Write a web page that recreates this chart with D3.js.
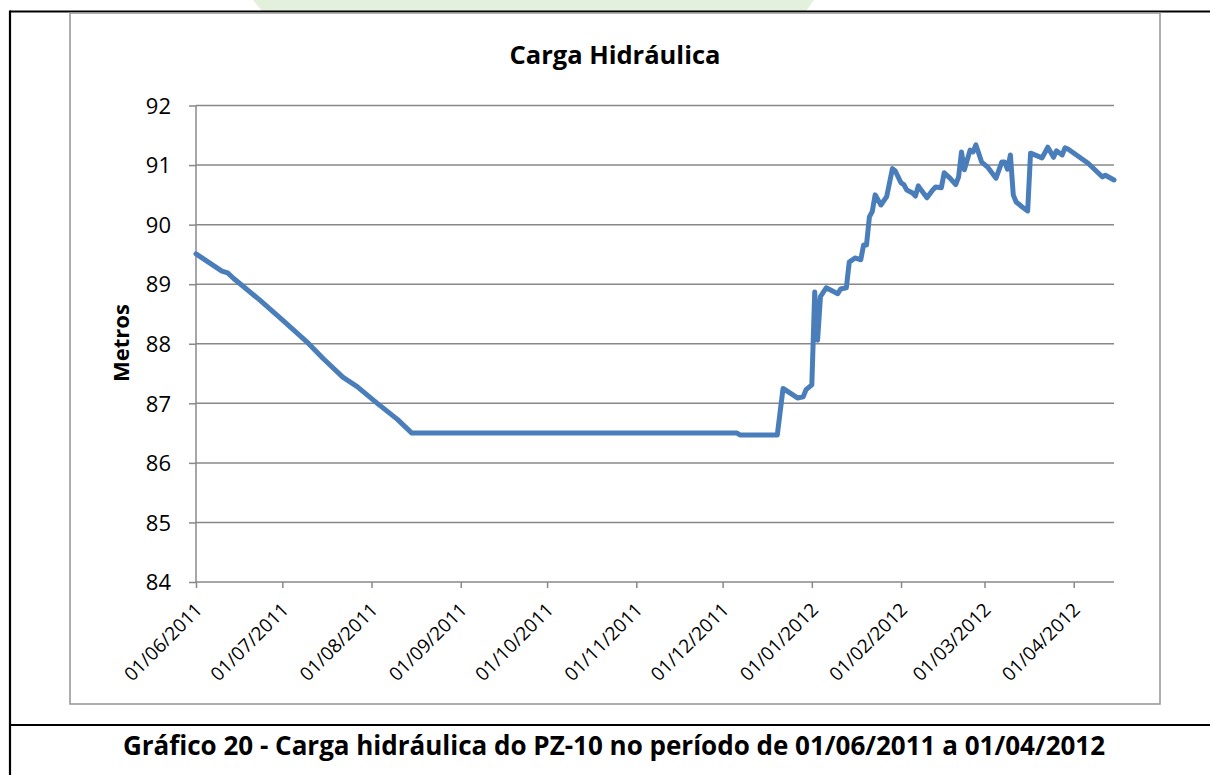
<!DOCTYPE html>
<html>
<head>
<meta charset="utf-8">
<script src="https://cdn.jsdelivr.net/npm/d3@7"></script>
<style>
  html, body { margin: 0; padding: 0; background: #fff; }
  svg { display: block; }
  text { font-family: "Open Sans", "Noto Sans", sans-serif; fill: #000; }
</style>
</head>
<body>
<svg id="chart" width="1210" height="775"></svg>
<script>
// ---- data ----
const dates = [
  "2011-06-01","2011-06-10","2011-06-12","2011-06-14","2011-06-23","2011-07-01",
  "2011-07-10","2011-07-15","2011-07-22","2011-07-27","2011-08-03","2011-08-10",
  "2011-08-15","2011-12-06","2011-12-07","2011-12-20","2011-12-22","2011-12-27",
  "2011-12-29","2011-12-30","2012-01-01","2012-01-02","2012-01-03","2012-01-04",
  "2012-01-06","2012-01-10","2012-01-11","2012-01-13","2012-01-14","2012-01-16",
  "2012-01-18","2012-01-19","2012-01-20","2012-01-21","2012-01-22","2012-01-23",
  "2012-01-25","2012-01-27","2012-01-29","2012-01-30","2012-02-01","2012-02-02",
  "2012-02-03","2012-02-05","2012-02-06","2012-02-07","2012-02-08","2012-02-10",
  "2012-02-12","2012-02-13","2012-02-15","2012-02-16","2012-02-18","2012-02-20",
  "2012-02-21","2012-02-22","2012-02-23","2012-02-25","2012-02-26","2012-02-27",
  "2012-02-29","2012-03-02","2012-03-05","2012-03-07","2012-03-08","2012-03-09",
  "2012-03-10","2012-03-11","2012-03-12","2012-03-14","2012-03-16","2012-03-17",
  "2012-03-21","2012-03-23","2012-03-25","2012-03-26","2012-03-28","2012-03-29",
  "2012-03-30","2012-04-06","2012-04-11","2012-04-12","2012-04-15"
];
const values = [
  89.51, 89.22, 89.19, 89.10, 88.74, 88.40,
  88.01, 87.76, 87.44, 87.28, 87.00, 86.73,
  86.50, 86.50, 86.47, 86.47, 87.25, 87.09,
  87.11, 87.23, 87.31, 88.87, 88.06, 88.79,
  88.94, 88.84, 88.92, 88.94, 89.37, 89.44,
  89.41, 89.66, 89.66, 90.13, 90.22, 90.50,
  90.33, 90.47, 90.94, 90.90, 90.70, 90.67,
  90.58, 90.53, 90.48, 90.65, 90.58, 90.45,
  90.58, 90.63, 90.62, 90.87, 90.78, 90.67,
  90.80, 91.22, 90.92, 91.25, 91.22, 91.34,
  91.05, 90.97, 90.78, 91.05, 91.05, 90.93,
  91.17, 90.50, 90.38, 90.30, 90.23, 91.20,
  91.12, 91.30, 91.13, 91.24, 91.17, 91.29,
  91.27, 91.03, 90.80, 90.83, 90.75
];
const yTicks = [84, 85, 86, 87, 88, 89, 90, 91, 92];
const xTickDates = [
  "2011-06-01","2011-07-01","2011-08-01","2011-09-01","2011-10-01","2011-11-01",
  "2011-12-01","2012-01-01","2012-02-01","2012-03-01","2012-04-01"
];
const xDomain = ["2011-06-01", "2012-04-15"];
const titleText = "Carga Hidráulica";
const yAxisTitle = "Metros";
const captionText = "Gráfico 20 - Carga hidráulica do PZ-10 no período de 01/06/2011 a 01/04/2012";

// ---- drawing ----
const parse = d3.timeParse("%Y-%m-%d");
const fmt = d3.timeFormat("%d/%m/%Y");
const svg = d3.select("#chart");

// faint watermark shape at top
svg.append("path")
  .attr("d", "M253,0 L814,0 L806,11 L262,11 Z")
  .attr("fill", "#e2f0dc");

// outer document frame
svg.append("line").attr("x1", 10).attr("x2", 1210).attr("y1", 11.5).attr("y2", 11.5)
  .attr("stroke", "#000").attr("stroke-width", 2.2);
svg.append("line").attr("x1", 10).attr("x2", 10).attr("y1", 10.5).attr("y2", 775)
  .attr("stroke", "#000").attr("stroke-width", 2.2);
svg.append("line").attr("x1", 10).attr("x2", 1210).attr("y1", 725).attr("y2", 725)
  .attr("stroke", "#000").attr("stroke-width", 2.2);

// chart area box
svg.append("rect").attr("x", 70).attr("y", 13).attr("width", 1090).attr("height", 691)
  .attr("fill", "#fff").attr("stroke", "#9a9a9a").attr("stroke-width", 1.6);

const x = d3.scaleTime().domain(xDomain.map(parse)).range([196, 1114]);
const y = d3.scaleLinear().domain([84, 92]).range([582, 105.5]);

// gridlines
svg.append("g").selectAll("line").data(yTicks.filter(t => t !== 84)).join("line")
  .attr("x1", 196).attr("x2", 1114)
  .attr("y1", d => y(d)).attr("y2", d => y(d))
  .attr("stroke", "#888").attr("stroke-width", 1.5);

// y axis
const yAxis = svg.append("g").attr("transform", "translate(196,0)")
  .call(d3.axisLeft(y).tickValues(yTicks).tickSize(7).tickPadding(18).tickFormat(d3.format("d")));
yAxis.select(".domain").attr("stroke", "#888").attr("stroke-width", 1.5).attr("d", `M0,${y(92)}V${y(84)}`);
yAxis.selectAll(".tick line").attr("stroke", "#888").attr("stroke-width", 1.5);
yAxis.selectAll(".tick text").attr("font-size", 22).attr("font-family", "Open Sans").attr("fill", "#000").attr("dy", "0.35em");

// x axis
const xAxis = svg.append("g").attr("transform", `translate(0,${y(84)})`)
  .call(d3.axisBottom(x).tickValues(xTickDates.map(parse)).tickSize(6).tickFormat(fmt));
xAxis.select(".domain").attr("stroke", "#888").attr("stroke-width", 1.5).attr("d", `M196,0H1114`);
xAxis.selectAll(".tick line").attr("stroke", "#888").attr("stroke-width", 1.5);
xAxis.selectAll(".tick text")
  .attr("font-size", 19).attr("font-family", "Open Sans").attr("fill", "#000")
  .attr("text-anchor", "end").attr("y", 0).attr("dy", 0)
  .attr("transform", "translate(7,29) rotate(-45)");

// data line
const data = dates.map((d, i) => ({ date: parse(d), value: values[i] }));
svg.append("path").datum(data)
  .attr("fill", "none").attr("stroke", "#4a7ebb").attr("stroke-width", 5)
  .attr("stroke-linejoin", "round").attr("stroke-linecap", "round")
  .attr("d", d3.line().x(d => x(d.date)).y(d => y(d.value)));

// title
svg.append("text").attr("x", 615).attr("y", 64).attr("text-anchor", "middle")
  .attr("font-size", 25.5).attr("font-weight", "bold").text(titleText);

// y axis title
svg.append("text").attr("transform", "translate(129,343) rotate(-90)").attr("text-anchor", "middle")
  .attr("font-size", 22).attr("font-weight", "bold").text(yAxisTitle);

// caption
svg.append("text").attr("x", 614).attr("y", 755).attr("text-anchor", "middle")
  .attr("font-size", 26).attr("font-weight", "bold").text(captionText);
</script>
</body>
</html>
